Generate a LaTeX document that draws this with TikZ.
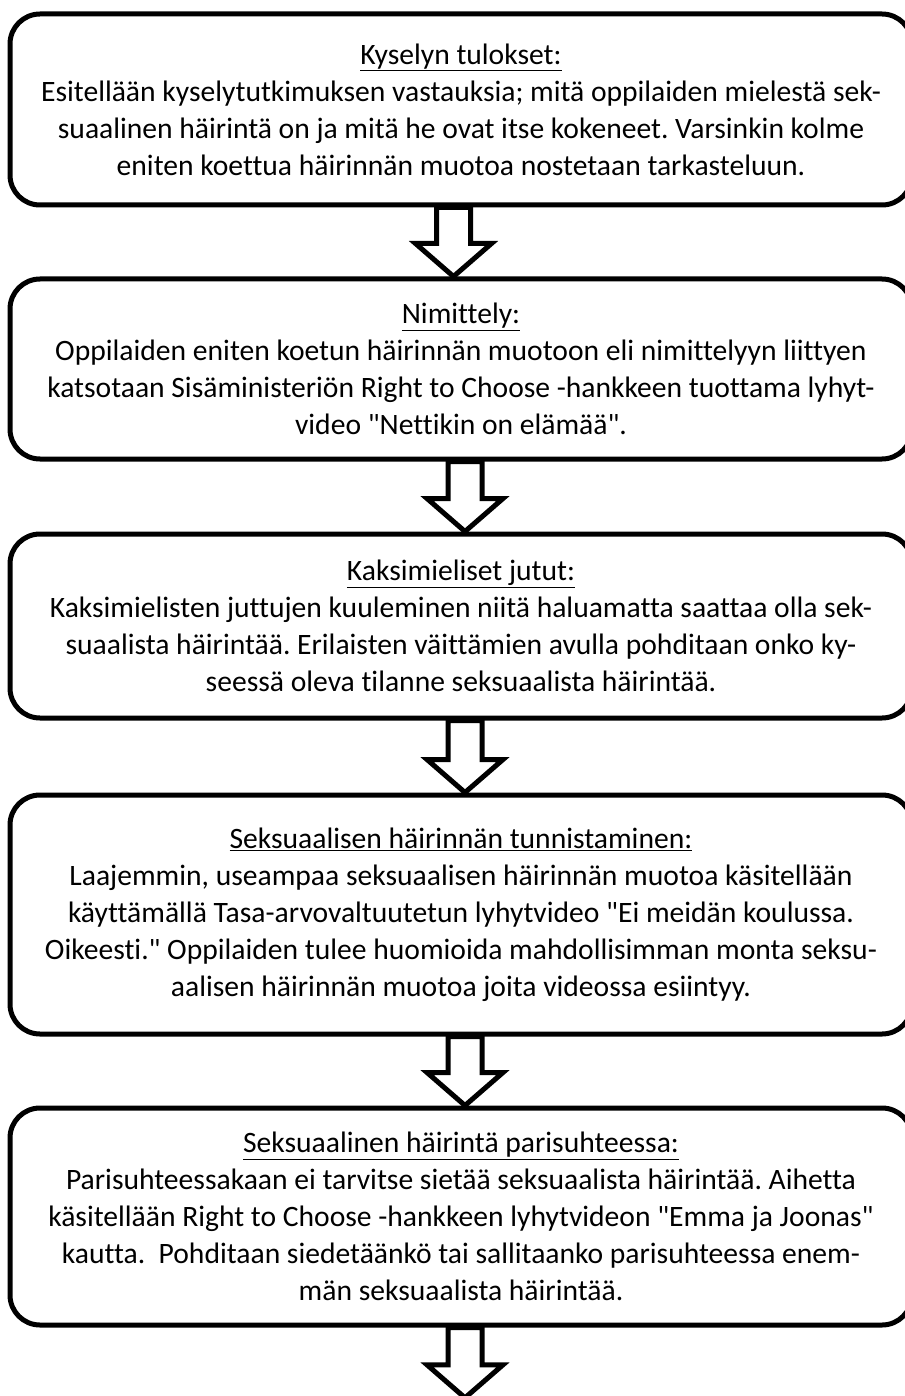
\documentclass[tikz,border=0pt]{standalone}
\usepackage{fontspec}
\setmainfont{Carlito}[Ligatures={TeXOff,NoCommon}]
\usetikzlibrary{calc}
\frenchspacing
\tikzset{
  stepbox/.style={draw=black, line width=5pt, rounded corners=30pt, minimum width=902pt, inner sep=0pt, align=center, font=\fontsize{29.6}{37}\selectfont},
  blockarrow/.style={draw=black, fill=white, line width=5pt, line join=miter}
}
\newcommand\hollowarrow[3]{%
  \draw[blockarrow] ($(#1.south)+(#3-17,0)$) -- ($(#2.north)+(#3-17,-33)$) -- ($(#2.north)+(#3-38,-33)$) -- ($(#2.north)+(#3,0)$) -- ($(#2.north)+(#3+38,-33)$) -- ($(#2.north)+(#3+17,-33)$) -- ($(#1.south)+(#3+17,0)$) -- cycle;}
\begin{document}
\begin{tikzpicture}[x=1pt,y=-1pt]
\useasboundingbox (0,0) rectangle (904,1396);
\node[stepbox, minimum height=191pt] (b1) at (461,109.5) {\underline{Kyselyn tulokset:}\\
Esitellään kyselytutkimuksen vastauksia; mitä oppilaiden mielestä sek-\\
suaalinen häirintä on ja mitä he ovat itse kokeneet. Varsinkin kolme\\
eniten koettua häirinnän muotoa nostetaan tarkasteluun.};
\node[stepbox, minimum height=180pt] (b2) at (461,369) {\underline{Nimittely:}\\
Oppilaiden eniten koetun häirinnän muotoon eli nimittelyyn liittyen\\
katsotaan Sisäministeriön Right to Choose -hankkeen tuottama lyhyt-\\
video "Nettikin on elämää".};
\node[stepbox, minimum height=184pt] (b3) at (461,626) {\underline{Kaksimieliset jutut:}\\
Kaksimielisten juttujen kuuleminen niitä haluamatta saattaa olla sek-\\
suaalista häirintää. Erilaisten väittämien avulla pohditaan onko ky-\\
seessä oleva tilanne seksuaalista häirintää.};
\node[stepbox, minimum height=239pt] (b4) at (461,914.5) {\underline{Seksuaalisen häirinnän tunnistaminen:}\\
Laajemmin, useampaa seksuaalisen häirinnän muotoa käsitellään\\
käyttämällä Tasa-arvovaltuutetun lyhytvideo "Ei meidän koulussa.\\
Oikeesti." Oppilaiden tulee huomioida mahdollisimman monta seksu-\\
aalisen häirinnän muotoa joita videossa esiintyy.};
\node[stepbox, minimum height=217pt] (b5) at (461,1216.5) {\underline{Seksuaalinen häirintä parisuhteessa:}\\
Parisuhteessakaan ei tarvitse sietää seksuaalista häirintää. Aihetta\\
käsitellään Right to Choose -hankkeen lyhytvideon "Emma ja Joonas"\\
kautta.\ \ Pohditaan siedetäänkö tai sallitaanko parisuhteessa enem-\\
män seksuaalista häirintää.};
\node[inner sep=0pt, minimum size=0pt] (end) at (461,1398) {};
\hollowarrow{b1}{b2}{-7.5}
\hollowarrow{b2}{b3}{4}
\hollowarrow{b3}{b4}{4}
\hollowarrow{b4}{b5}{4}
\hollowarrow{b5}{end}{4}
\end{tikzpicture}
\end{document}
